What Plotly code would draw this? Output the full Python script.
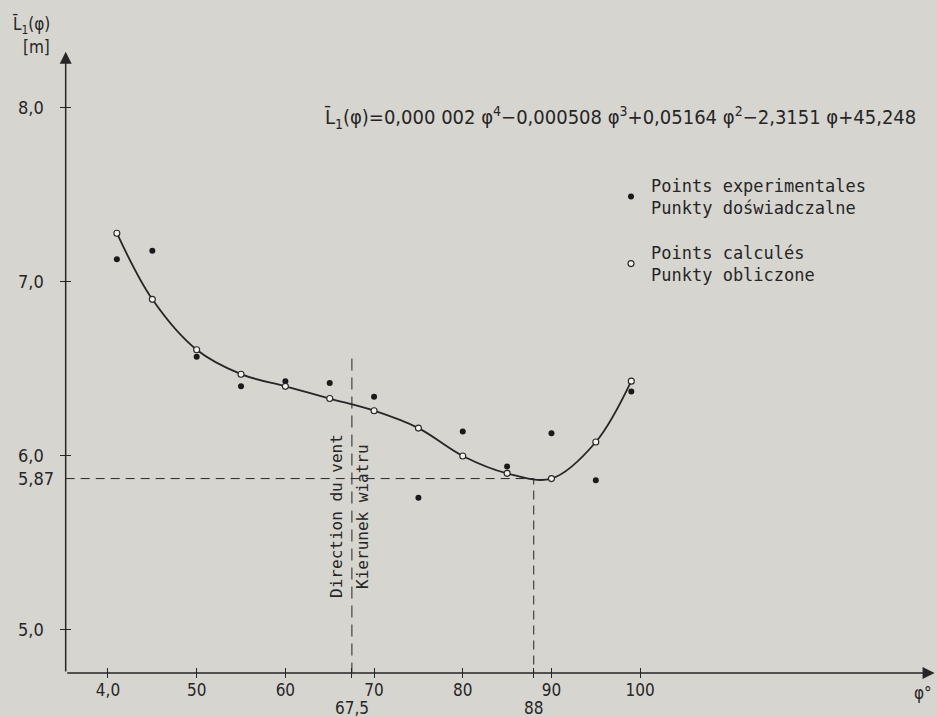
import plotly.graph_objects as go

# ---- data ----
phi = [41, 45, 50, 55, 60, 65, 70, 75, 80, 85, 90, 95, 99]
L_exp = [7.13, 7.18, 6.57, 6.40, 6.43, 6.42, 6.34, 5.76, 6.14, 5.94, 6.13, 5.86, 6.37]
L_calc = [7.28, 6.90, 6.61, 6.47, 6.40, 6.33, 6.26, 6.16, 6.00, 5.90, 5.87, 6.08, 6.43]

x_tickvals = [40, 50, 60, 70, 80, 90, 100]
x_ticktext = ["4,0", "50", "60", "70", "80", "90", "100"]
y_tickvals = [8.0, 7.0, 6.0, 5.87, 5.0]
y_ticktext = ["8,0", "7,0", "6,0", "5,87", "5,0"]

wind_direction = 67.5
wind_top = 6.56
phi_min = 88
L_min = 5.87

x_range = [34.59, 133.24]
y_range = [4.724, 8.333]
x_origin = 35.23
y_origin = 4.753

INK = "#262626"
BG = "#d7d5d0"
TICKFONT = "DejaVu Sans Condensed, Liberation Sans Narrow, sans-serif"
TEXTFONT = "DejaVu Sans Mono, monospace"

fig = go.Figure()

# dashed reference lines
fig.add_trace(go.Scatter(x=[x_origin, phi_min, phi_min], y=[L_min, L_min, y_origin],
                         mode="lines", line=dict(color=INK, width=1, dash="9px,6px"),
                         showlegend=False, hoverinfo="skip"))
fig.add_trace(go.Scatter(x=[wind_direction, wind_direction], y=[wind_top, y_origin],
                         mode="lines", line=dict(color=INK, width=1, dash="12px,7px"),
                         showlegend=False, hoverinfo="skip"))

# fitted curve through the calculated points
fig.add_trace(go.Scatter(x=phi, y=L_calc, mode="lines",
                         line=dict(color=INK, width=1.8, shape="spline", smoothing=1.0),
                         showlegend=False, hoverinfo="skip"))

# experimental points
fig.add_trace(go.Scatter(x=phi, y=L_exp, mode="markers",
                         marker=dict(symbol="circle", size=6, color="#1a1a1a"),
                         name="Points experimentales<br>Punkty doświadczalne",
                         legendgroup="a"))
# calculated points
fig.add_trace(go.Scatter(x=phi, y=L_calc, mode="markers",
                         marker=dict(symbol="circle", size=6, color="#f2f1ec",
                                     line=dict(color=INK, width=1.1)),
                         name="Points calculés<br>Punkty obliczone",
                         legendgroup="b"))

annotations = []
# axes with arrows
annotations.append(dict(x=x_range[1] - 0.05, y=y_origin, ax=x_origin, ay=y_origin,
                        xref="x", yref="y", axref="x", ayref="y", text="",
                        showarrow=True, arrowhead=2, arrowsize=1.6, arrowwidth=1.5,
                        arrowcolor=INK))
annotations.append(dict(x=x_origin, y=y_range[1] - 0.01, ax=x_origin, ay=y_origin,
                        xref="x", yref="y", axref="x", ayref="y", text="",
                        showarrow=True, arrowhead=2, arrowsize=1.6, arrowwidth=1.5,
                        arrowcolor=INK))

# y tick labels (left aligned, as in the original)
for v, t in zip(y_tickvals, y_ticktext):
    annotations.append(dict(x=-0.050, y=v, xref="paper", yref="y", text=t,
                            xanchor="left", yanchor="middle", showarrow=False,
                            font=dict(family=TICKFONT, size=18, color=INK)))

# extra x labels below
for v, t in [(wind_direction, "67,5"), (phi_min, "88")]:
    annotations.append(dict(x=v, y=-0.048, xref="x", yref="paper", text=t,
                            xanchor="center", yanchor="middle", showarrow=False,
                            font=dict(family=TICKFONT, size=17, color=INK)))

# axis titles
annotations.append(dict(x=-0.009, y=1.040, xref="paper", yref="paper",
                        text="L\u0304<sub>1</sub>(φ)", xanchor="right", yanchor="middle",
                        showarrow=False, font=dict(family=TICKFONT, size=17, color=INK)))
annotations.append(dict(x=-0.009, y=1.005, xref="paper", yref="paper",
                        text="[m]", xanchor="right", yanchor="middle",
                        showarrow=False, font=dict(family=TICKFONT, size=17, color=INK)))
annotations.append(dict(x=0.999, y=-0.024, xref="paper", yref="paper",
                        text="φ°", xanchor="right", yanchor="middle",
                        showarrow=False, font=dict(family=TICKFONT, size=17, color=INK)))

# formula
annotations.append(dict(x=(322 - 60) / 875, y=(679 - 118) / 629, xref="paper", yref="paper",
                        text="L\u0304<sub>1</sub>(φ)=0,000 002 φ<sup>4</sup>−0,000508 φ<sup>3</sup>"
                             "+0,05164 φ<sup>2</sup>−2,3151 φ+45,248",
                        xanchor="left", yanchor="middle", showarrow=False,
                        font=dict(family=TICKFONT, size=20, color=INK)))

# wind direction labels
annotations.append(dict(x=wind_direction, y=5.655, xref="x", yref="y",
                        text="Direction du vent", textangle=-90, xshift=-16,
                        xanchor="center", yanchor="middle", showarrow=False,
                        font=dict(family=TEXTFONT, size=16, color=INK)))
annotations.append(dict(x=wind_direction, y=5.655, xref="x", yref="y",
                        text="Kierunek wiatru", textangle=-90, xshift=10,
                        xanchor="center", yanchor="middle", showarrow=False,
                        font=dict(family=TEXTFONT, size=16, color=INK)))

fig.update_layout(
    width=937, height=717,
    margin=dict(l=60, r=2, t=50, b=39),
    paper_bgcolor=BG, plot_bgcolor=BG,
    annotations=annotations,
    showlegend=True,
    legend=dict(x=(611 - 60) / 875, y=(679 - 168) / 629, xanchor="left", yanchor="top",
                bgcolor="rgba(0,0,0,0)", font=dict(family=TEXTFONT, size=17, color=INK),
                traceorder="grouped", tracegroupgap=20, itemwidth=30),
    xaxis=dict(range=x_range, showgrid=False, zeroline=False, showline=False,
               tickmode="array", tickvals=x_tickvals, ticktext=x_ticktext,
               ticks="inside", ticklen=10, tickwidth=1.2, tickcolor=INK,
               tickfont=dict(family=TICKFONT, size=17, color=INK),
               minor=dict(tickmode="array", tickvals=[wind_direction, phi_min],
                          ticks="inside", ticklen=10, tickwidth=1, tickcolor=INK)),
    yaxis=dict(range=y_range, showgrid=False, zeroline=False, showline=False,
               tickmode="array", tickvals=[8.0, 7.0, 6.0, 5.0],
               showticklabels=False,
               ticks="inside", ticklen=11, tickwidth=1.2, tickcolor=INK),
)

fig.write_html(
    "out.html",
    config={"displayModeBar": False},
    post_script="document.body.style.margin='0';document.body.style.background='%s';" % BG,
)
